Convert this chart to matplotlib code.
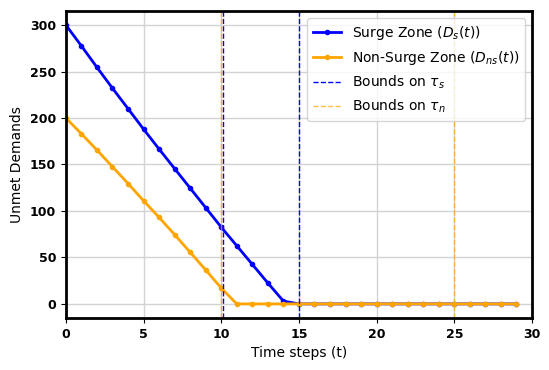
import matplotlib
matplotlib.use("Agg")
import matplotlib.pyplot as plt

t = list(range(30))
surge = [300, 277.5, 254.5, 232, 210, 188, 166.5, 145.5, 124.5, 103.5, 82.5, 62.5, 42.5, 22.5, 3] + [0] * 15
nonsurge = [200, 183, 165.5, 147.5, 129.5, 111, 93, 74.5, 55.5, 36.5, 17] + [0] * 19
tau_s_bounds = [10.1, 15]
tau_n_bounds = [10.0, 25]

fig = plt.figure(figsize=(5.49, 3.70), dpi=100)
ax = fig.add_axes([0.120, 0.141, 0.849, 0.829])

ax.plot(t, surge, color='blue', lw=2, marker='o', ms=3, label=r'Surge Zone ($D_s(t)$)')
ax.plot(t, nonsurge, color='orange', lw=2, marker='o', ms=3, label=r'Non-Surge Zone ($D_{ns}(t)$)')
for i, v in enumerate(tau_s_bounds):
    ax.axvline(v, color='blue', ls='--', lw=1, label=r'Bounds on $\tau_s$' if i == 0 else None)
for i, v in enumerate(tau_n_bounds):
    ax.axvline(v, color='orange', ls='--', lw=1, alpha=0.7, label=r'Bounds on $\tau_n$' if i == 0 else None)

ax.set_xlim(0, 30)
ax.set_xlabel('Time steps (t)', fontsize=10)
ax.set_ylabel('Unmet Demands', fontsize=10)
ax.grid(True, color='lightgray', lw=1)
for s in ax.spines.values():
    s.set_linewidth(2)
for lab in ax.get_xticklabels() + ax.get_yticklabels():
    lab.set_fontweight('bold')
ax.tick_params(labelsize=9)
ax.legend(loc='upper right', fontsize=10)

fig.savefig('out.png', dpi=100)
